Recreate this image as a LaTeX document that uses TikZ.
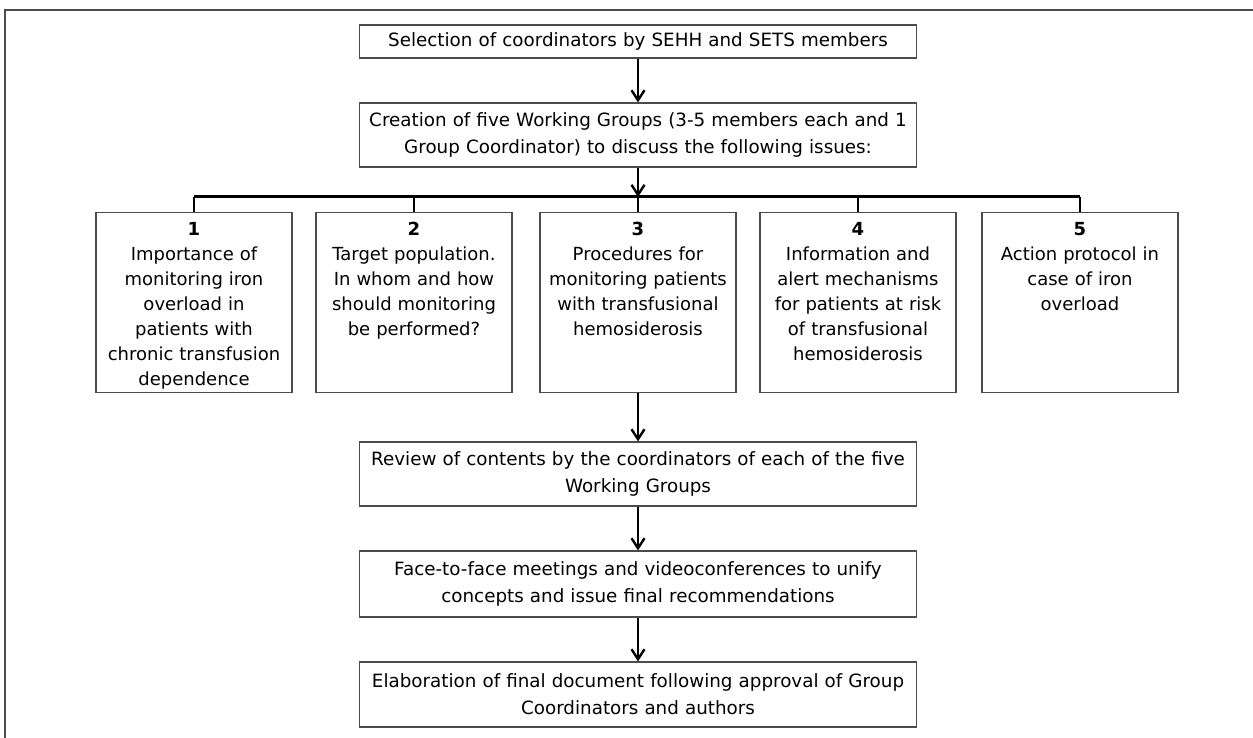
\documentclass[tikz,border=0pt]{standalone}
\usepackage{fontspec}
\setmainfont{DejaVu Sans}
\usetikzlibrary{arrows.meta}
\tikzset{
  stepbox/.style={draw=black!70, line width=1.2pt, text width=540pt, align=center, inner sep=0pt, minimum width=557pt, minimum height=64pt, font=\fontsize{18.3}{27}\selectfont},
  grpbox/.style={draw=black!70, line width=1.2pt, minimum width=196pt, minimum height=180pt, anchor=north, inner sep=0pt},
  grptext/.style={anchor=north, text width=190pt, align=center, inner sep=0pt, yshift=-10pt},
  link/.style={line width=2.4pt, ->}
}
\begin{document}
\begin{tikzpicture}[x=1pt, y=-1pt, >={Straight Barb[length=10pt, width=13pt]}, font=\fontsize{18}{25}\selectfont]
        \useasboundingbox (0, 0) rectangle (1253, 738);
        \draw [black!70, line width=1.2pt] (5, 760) -- (5, 10) -- (1280, 10);
        % central steps
        \node [stepbox, minimum height=33pt] (sel) at (638, 41.5) {Selection of coordinators by SEHH and SETS members};
        \node [stepbox] (wg) at (638, 135) {Creation of five Working Groups (3-5 members each and 1\\Group Coordinator) to discuss the following issues:};
        \node [stepbox] (rev) at (638, 474) {Review of contents by the coordinators of each of the five\\Working Groups};
        \node [stepbox, minimum height=66pt] (meet) at (638, 584) {Face-to-face meetings and videoconferences to unify\\concepts and issue final recommendations};
        \node [stepbox, minimum height=65pt] (doc) at (638, 694.5) {Elaboration of final document following approval of Group\\Coordinators and authors};
        % working groups
        \node [grpbox] (g1) at (194, 212) {};
        \node [grpbox] (g2) at (414, 212) {};
        \node [grpbox] (g3) at (638, 212) {};
        \node [grpbox] (g4) at (858, 212) {};
        \node [grpbox] (g5) at (1080, 212) {};
        \node [grptext] (t1) at (g1.north) {\textbf{1}\\Importance of\\monitoring iron\\overload in\\patients with\\chronic transfusion\\dependence};
        \node [grptext] (t2) at (g2.north) {\textbf{2}\\Target population.\\In whom and how\\should monitoring\\be performed?};
        \node [grptext] (t3) at (g3.north) {\textbf{3}\\Procedures for\\monitoring patients\\with transfusional\\hemosiderosis};
        \node [grptext] (t4) at (g4.north) {\textbf{4}\\Information and\\alert mechanisms\\for patients at risk\\of transfusional\\hemosiderosis};
        \node [grptext] (t5) at (g5.north) {\textbf{5}\\Action protocol in\\case of iron\\overload};
        \coordinate (bus) at (638, 197);
        % connectors
        \draw [line width=3pt] (g1.north |- bus) -- (g5.north |- bus);
        \foreach \g in {g1, g2, g3, g4, g5}
            \draw [line width=2.4pt] (\g.north |- bus) -- (\g.north);
        \draw [link] (sel) -- (wg);
        \draw [link] (wg) -- (bus);
        \draw [link] (g3) -- (rev);
        \draw [link] (rev) -- (meet);
        \draw [link] (meet) -- (doc);
\end{tikzpicture}
\end{document}
